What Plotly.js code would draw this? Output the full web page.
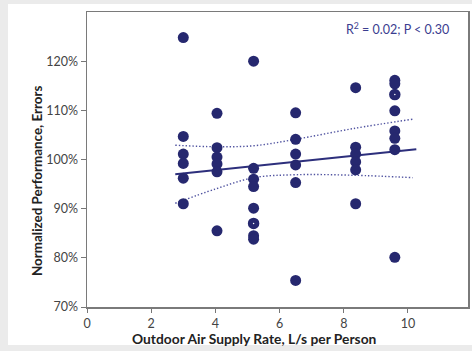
<!DOCTYPE html>
<html>
<head>
<meta charset="utf-8">
<script src="https://cdn.plot.ly/plotly-3.0.1.min.js"></script>
<style>html,body{margin:0;padding:0;background:#ebebeb;}#chart{width:472px;height:351px;}</style>
</head>
<body>
<div id="chart"></div>
<script>
// Filled observations
var pointX = [3.0,3.0,3.0,3.0,3.0,3.0,
              4.05,4.05,4.05,4.05,4.05,4.05,
              5.19,5.19,5.19,5.19,5.19,5.19,5.19,
              6.5,6.5,6.5,6.5,6.5,6.5,
              8.37,8.37,8.37,8.37,8.37,8.37,
              9.59,9.59,9.59,9.59,9.59,9.59,9.59];
var pointY = [124.8,104.7,101.1,99.2,96.2,91.0,
              109.4,102.4,100.5,99.1,97.5,85.5,
              120.0,98.2,96.0,94.5,90.1,84.5,83.8,
              109.5,104.1,101.1,98.9,95.3,75.4,
              114.6,102.5,101.1,99.5,97.9,91.0,
              116.1,115.4,109.9,105.8,104.3,102.0,80.1];
// Ringed observations (white centre)
var ringX = [5.19, 9.59];
var ringY = [87.0, 113.2];
// Regression fit
var fitX = [2.75, 10.26];
var fitY = [97.0, 102.1];
// Confidence band
var bandX = [2.75, 4.0, 5.2, 6.5, 8.3, 10.15];
var upperBand = [102.9, 102.6, 102.8, 104.1, 106.3, 108.2];
var lowerBand = [91.1, 94.0, 96.3, 96.9, 96.8, 96.3];
// Ticks
var xTicks = [0, 2, 4, 6, 8, 10];
var yTicks = [70, 80, 90, 100, 110, 120];
var annotationText = 'R<sup>2</sup> = 0.02; P < 0.30';
var xTitle = 'Outdoor Air Supply Rate, L/s per Person';
var yTitle = 'Normalized Performance, Errors';

var navy = '#26286f';
var font = 'Lato, "Open Sans", sans-serif';

var traces = [
  {x: bandX, y: upperBand, mode: 'lines', line: {color: '#5053a0', width: 1.4, dash: '1.4px,2px', shape: 'spline'}, hoverinfo: 'skip'},
  {x: bandX, y: lowerBand, mode: 'lines', line: {color: '#5053a0', width: 1.4, dash: '1.4px,2px', shape: 'spline'}, hoverinfo: 'skip'},
  {x: fitX, y: fitY, mode: 'lines', line: {color: '#2d2f7c', width: 2}},
  {x: pointX, y: pointY, mode: 'markers', marker: {color: navy, size: 11}},
  {x: ringX, y: ringY, mode: 'markers', marker: {color: '#ffffff', size: 6.5, line: {color: navy, width: 5}}}
];

var W = 381, H = 295;
var layout = {
  width: 472, height: 351,
  margin: {l: 87, r: 4, t: 12, b: 44},
  paper_bgcolor: '#ebebeb',
  plot_bgcolor: '#ffffff',
  showlegend: false,
  font: {family: font, color: '#444'},
  xaxis: {
    range: [0, 11.87], tickvals: xTicks, ticktext: xTicks.map(String),
    ticks: 'outside', ticklen: 4, tickcolor: '#777', tickwidth: 1,
    showline: true, linecolor: '#7a7a7a', linewidth: 1.5, mirror: true,
    showgrid: false, zeroline: false,
    tickfont: {size: 12.5, color: '#444', family: font}
  },
  yaxis: {
    range: [70, 130], tickvals: yTicks, ticktext: yTicks.map(function(v){return v + '%';}),
    ticks: 'outside', ticklen: 5, tickcolor: '#777', tickwidth: 1,
    showline: true, linecolor: '#7a7a7a', linewidth: 1.5, mirror: true,
    showgrid: false, zeroline: false,
    tickfont: {size: 12.5, color: '#444', family: font}
  },
  shapes: [{
    type: 'rect', xref: 'paper', yref: 'paper', layer: 'below',
    x0: (8 - 87) / W, x1: (472 - 87) / W,
    y0: (307 - 345) / H, y1: (307 - 4) / H,
    fillcolor: '#ffffff', line: {width: 0}
  }],
  annotations: [{
    text: annotationText, xref: 'paper', yref: 'paper',
    x: (451 - 87) / W, y: (307 - 28) / H, xanchor: 'right', yanchor: 'middle',
    showarrow: false, font: {size: 12.5, color: '#3b3d8f', family: font}
  }, {
    text: xTitle, xref: 'paper', yref: 'paper',
    x: (254 - 87) / W, y: (307 - 338.5) / H, xanchor: 'center', yanchor: 'middle',
    showarrow: false, font: {size: 13.8, color: '#222', family: font, weight: 'bold'}
  }, {
    text: yTitle, xref: 'paper', yref: 'paper', textangle: -90,
    x: (37 - 87) / W, y: (307 - 181) / H, xanchor: 'center', yanchor: 'middle',
    showarrow: false, font: {size: 13.4, color: '#222', family: font, weight: 'bold'}
  }]
};
Plotly.newPlot('chart', traces, layout, {staticPlot: true, displayModeBar: false});
</script>
</body>
</html>
